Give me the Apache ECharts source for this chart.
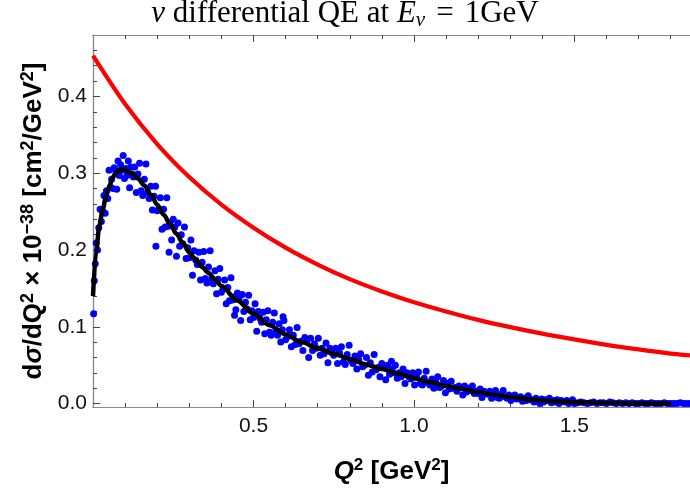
<!DOCTYPE html>
<html><head><meta charset="utf-8">
<script src="https://cdn.jsdelivr.net/npm/echarts@6/dist/echarts.min.js"></script>
<style>html,body{margin:0;padding:0;background:#fff}#c{width:690px;height:491px}</style>
</head><body><div id="c"></div>
<script>
// Red curve (smooth theory curve)
const redQ2 = [0,0.1,0.2,0.3,0.4,0.5,0.6,0.7,0.8,0.9,1.0,1.1,1.2,1.3,1.4,1.5,1.6,1.7,1.8,1.86];
const redSigma = [0.453,0.390,0.338,0.295,0.259,0.229,0.203,0.181,0.162,0.146,0.132,0.120,0.109,0.0995,0.091,0.0835,0.0765,0.0705,0.065,0.0626];
// Black fit curve
const fitQ2 = [0,0.01,0.02,0.03,0.04,0.05,0.06,0.07,0.08,0.09,0.10,0.12,0.14,0.16,0.18,0.20,0.22,0.24,0.26,0.28,0.30,0.32,0.34,0.36,0.38,0.40,0.45,0.50,0.55,0.60,0.65,0.70,0.75,0.80,0.85,0.90,0.95,1.00,1.05,1.10,1.15,1.20,1.25,1.30,1.35,1.40,1.45,1.50,1.55,1.60,1.65,1.70,1.80];
const fitSigma = [0.140,0.200,0.232,0.252,0.269,0.282,0.293,0.300,0.304,0.305,0.304,0.300,0.293,0.284,0.272,0.259,0.246,0.234,0.221,0.209,0.197,0.187,0.178,0.170,0.162,0.153,0.134,0.117,0.102,0.090,0.080,0.072,0.065,0.058,0.051,0.045,0.039,0.033,0.028,0.023,0.019,0.015,0.0115,0.0085,0.006,0.004,0.0028,0.0018,0.0012,0.0007,0.0004,0.0002,0.0];
// Blue Monte-Carlo points [Q2, dsigma]
const mcPoints = [
[0.002,0.117],[0.004,0.160],[0.007,0.182],[0.010,0.209],[0.014,0.200],[0.018,0.229],[0.022,0.253],[0.026,0.237],[0.030,0.250],[0.034,0.271],
[0.038,0.248],[0.042,0.277],[0.046,0.267],[0.050,0.304],[0.054,0.282],[0.058,0.292],[0.062,0.280],[0.066,0.307],[0.070,0.304],[0.074,0.279],
[0.078,0.316],[0.082,0.297],[0.086,0.311],[0.090,0.304],[0.094,0.323],[0.098,0.293],[0.102,0.306],[0.106,0.297],[0.110,0.316],[0.114,0.281],
[0.118,0.308],[0.122,0.299],[0.126,0.295],[0.130,0.308],[0.135,0.275],[0.140,0.299],[0.145,0.313],[0.150,0.277],[0.155,0.271],[0.160,0.292],
[0.165,0.312],[0.170,0.275],[0.175,0.267],[0.180,0.283],[0.185,0.252],[0.190,0.270],[0.195,0.283],[0.196,0.205],[0.200,0.251],[0.205,0.253],
[0.210,0.268],[0.215,0.227],[0.220,0.253],[0.225,0.230],[0.230,0.268],[0.235,0.231],[0.237,0.197],[0.240,0.235],[0.245,0.213],[0.250,0.240],
[0.255,0.230],[0.260,0.192],[0.265,0.235],[0.270,0.205],[0.275,0.220],[0.280,0.208],[0.285,0.230],[0.290,0.189],[0.295,0.203],[0.300,0.190],
[0.305,0.213],[0.310,0.167],[0.315,0.199],[0.320,0.187],[0.325,0.181],[0.330,0.197],[0.335,0.161],[0.340,0.184],[0.345,0.198],[0.350,0.163],
[0.355,0.157],[0.360,0.178],[0.365,0.199],[0.370,0.163],[0.375,0.156],[0.380,0.173],[0.385,0.143],[0.390,0.162],[0.395,0.176],[0.400,0.145],
[0.405,0.149],[0.410,0.161],[0.415,0.130],[0.420,0.151],[0.425,0.134],[0.430,0.164],[0.435,0.135],[0.440,0.139],[0.441,0.115],[0.445,0.122],
[0.450,0.144],[0.455,0.137],[0.460,0.108],[0.465,0.142],[0.470,0.120],[0.475,0.132],[0.480,0.123],[0.485,0.141],[0.490,0.109],[0.495,0.121],
[0.500,0.112],[0.505,0.130],[0.510,0.094],[0.515,0.120],[0.520,0.111],[0.525,0.106],[0.530,0.119],[0.535,0.091],[0.540,0.109],[0.545,0.121],
[0.550,0.093],[0.555,0.089],[0.560,0.106],[0.565,0.118],[0.570,0.095],[0.575,0.089],[0.580,0.104],[0.585,0.080],[0.590,0.096],[0.592,0.113],
[0.595,0.108],[0.600,0.083],[0.606,0.087],[0.612,0.096],[0.618,0.074],[0.624,0.089],[0.630,0.077],[0.636,0.099],[0.642,0.078],[0.648,0.081],
[0.654,0.069],[0.660,0.086],[0.666,0.081],[0.672,0.060],[0.678,0.085],[0.684,0.069],[0.690,0.078],[0.696,0.072],[0.702,0.085],[0.708,0.063],
[0.714,0.072],[0.720,0.065],[0.726,0.079],[0.732,0.053],[0.738,0.072],[0.744,0.066],[0.750,0.063],[0.756,0.072],[0.762,0.052],[0.768,0.066],
[0.774,0.074],[0.780,0.054],[0.786,0.051],[0.792,0.064],[0.798,0.076],[0.804,0.056],[0.810,0.052],[0.816,0.062],[0.822,0.045],[0.828,0.057],
[0.834,0.065],[0.840,0.048],[0.846,0.050],[0.852,0.060],[0.858,0.037],[0.864,0.053],[0.870,0.041],[0.876,0.064],[0.882,0.044],[0.888,0.047],
[0.894,0.035],[0.900,0.052],[0.906,0.047],[0.912,0.031],[0.918,0.050],[0.924,0.038],[0.930,0.055],[0.932,0.045],[0.936,0.040],[0.942,0.050],
[0.948,0.033],[0.954,0.040],[0.960,0.035],[0.966,0.045],[0.972,0.026],[0.978,0.040],[0.984,0.035],[0.990,0.032],[0.996,0.040],[1.002,0.024],
[1.008,0.035],[1.014,0.041],[1.020,0.026],[1.026,0.024],[1.032,0.033],[1.038,0.042],[1.044,0.027],[1.050,0.024],[1.056,0.032],[1.062,0.020],
[1.068,0.028],[1.074,0.035],[1.080,0.021],[1.086,0.023],[1.092,0.030],[1.098,0.014],[1.104,0.026],[1.110,0.019],[1.116,0.029],[1.122,0.020],
[1.128,0.021],[1.134,0.016],[1.140,0.023],[1.146,0.021],[1.152,0.011],[1.158,0.023],[1.164,0.015],[1.170,0.020],[1.176,0.017],[1.182,0.023],
[1.188,0.013],[1.194,0.016],[1.200,0.013],[1.206,0.019],[1.212,0.008],[1.218,0.016],[1.224,0.013],[1.230,0.012],[1.236,0.016],[1.242,0.007],
[1.248,0.013],[1.254,0.017],[1.260,0.008],[1.266,0.007],[1.272,0.012],[1.278,0.017],[1.284,0.009],[1.290,0.007],[1.296,0.011],[1.302,0.004],
[1.308,0.009],[1.314,0.011],[1.320,0.006],[1.326,0.007],[1.332,0.009],[1.338,0.003],[1.344,0.007],[1.350,0.004],[1.356,0.010],[1.362,0.005],
[1.368,0.005],[1.374,0.002],[1.380,0.007],[1.386,0.005],[1.392,0.000],[1.398,0.006],[1.404,0.002],[1.410,0.005],[1.416,0.004],[1.422,0.007],
[1.428,0.001],[1.434,0.004],[1.440,0.002],[1.446,0.005],[1.452,0.000],[1.458,0.004],[1.464,0.003],[1.470,0.002],[1.476,0.004],[1.482,0.000],
[1.488,0.003],[1.494,0.005],[1.500,0.000],[1.510,0.001],[1.520,0.002],[1.530,0.001],[1.540,0.000],[1.550,0.001],[1.560,0.002],[1.570,0.000],
[1.580,0.001],[1.590,0.001],[1.600,0.000],[1.610,0.002],[1.620,0.001],[1.630,0.000],[1.640,0.001],[1.650,0.000],[1.660,0.001],[1.670,0.000],
[1.680,0.001],[1.690,0.000],[1.700,0.000],[1.710,0.001],[1.720,0.000],[1.730,0.000],[1.740,0.001],[1.750,0.000],[1.760,0.000],[1.770,0.000],
[1.780,0.001],[1.790,0.000],[1.800,0.000],[1.810,0.000],[1.820,0.000],[1.830,0.001],[1.840,0.000],[1.850,0.000],[1.860,0.000]
];
// Ticks
const xMajorTicks = [0.5,1.0,1.5];
const xMinorTicks = [0.1,0.2,0.3,0.4,0.6,0.7,0.8,0.9,1.1,1.2,1.3,1.4,1.6,1.7,1.8];
const yMajorTicks = [0,0.1,0.2,0.3,0.4];
const yMinorTicks = [0.02,0.04,0.06,0.08,0.12,0.14,0.16,0.18,0.22,0.24,0.26,0.28,0.32,0.34,0.36,0.38,0.42,0.44,0.46];

const SANS = 'Liberation Sans, Arial, sans-serif';
const SERIF = 'Liberation Serif, Times New Roman, serif';
const X_MIN = 0, X_MAX = 1.86, Y_MIN = -0.0045, Y_MAX = 0.48;
const frameColor = '#8a8a8a', tickColor = '#444';

function xAxisDef(pos, ticks, len, withLabels) {
  return {
    type: 'value', position: pos, min: X_MIN, max: X_MAX,
    axisLine: { show: true, onZero: false, lineStyle: { color: frameColor, width: 1.2 } },
    axisTick: { show: true, inside: true, length: len, customValues: ticks, lineStyle: { color: tickColor, width: 1 } },
    axisLabel: withLabels ? { show: true, customValues: ticks, margin: 9, fontFamily: SANS, fontSize: 21, color: '#111',
      formatter: v => v.toFixed(1) } : { show: false },
    splitLine: { show: false }
  };
}
function yAxisDef(ticks, len, withLabels) {
  return {
    type: 'value', position: 'left', min: Y_MIN, max: Y_MAX,
    axisLine: { show: true, onZero: false, lineStyle: { color: frameColor, width: 1.2 } },
    axisTick: { show: true, inside: true, length: len, customValues: ticks, lineStyle: { color: tickColor, width: 1 } },
    axisLabel: withLabels ? { show: true, customValues: ticks, margin: 6, fontFamily: SANS, fontSize: 21, color: '#111',
      formatter: v => v.toFixed(1) } : { show: false },
    splitLine: { show: false }
  };
}

const xMain = xAxisDef('bottom', xMajorTicks, 7, true);
xMain.name = '{bi|Q}{s|2}{b| [GeV}{s|2}{b|]}';
xMain.nameLocation = 'middle';
xMain.nameGap = 50;
xMain.nameTextStyle = { rich: {
  b: { fontFamily: SANS, fontWeight: 'bold', fontSize: 26, lineHeight: 30, color: '#000' },
  bi: { fontFamily: SANS, fontWeight: 'bold', fontStyle: 'italic', fontSize: 26, lineHeight: 30, color: '#000' },
  s: { fontFamily: SANS, fontWeight: 'bold', fontSize: 17, lineHeight: 17, verticalAlign: 'top', color: '#000' }
}};

const yMain = yAxisDef(yMajorTicks, 7, true);
yMain.name = '{b|d}{bi|σ}{b|/dQ}{s|2}{b| × 10}{s|−38}{b| [cm}{s|2}{b|/GeV}{s|2}{b|]}';
yMain.nameLocation = 'middle';
yMain.nameRotate = 90;
yMain.nameGap = 44;
yMain.nameTextStyle = { rich: {
  b: { fontFamily: SANS, fontWeight: 'bold', fontSize: 26, lineHeight: 30, color: '#000' },
  bi: { fontFamily: SANS, fontWeight: 'bold', fontStyle: 'italic', fontSize: 26, lineHeight: 30, color: '#000' },
  s: { fontFamily: SANS, fontWeight: 'bold', fontSize: 18, lineHeight: 18, verticalAlign: 'top', color: '#000' }
}};

const chart = echarts.init(document.getElementById('c'), null, { renderer: 'canvas' });
chart.setOption({
  backgroundColor: '#fff',
  animation: false,
  title: {
    text: '{i|ν}{r| differential QE at }{i|E}{sub|ν}{eq|=}{r|1GeV}',
    left: 'center', top: -4, padding: 0,
    textStyle: { fontWeight: 'normal', rich: {
      r: { fontFamily: SERIF, fontWeight: 'normal', fontSize: 31, lineHeight: 35, color: '#000' },
      i: { fontFamily: SERIF, fontWeight: 'normal', fontStyle: 'italic', fontSize: 31, lineHeight: 35, color: '#000' },
      eq: { fontFamily: SERIF, fontWeight: 'normal', fontSize: 31, lineHeight: 35, color: '#000', padding: [0, 11, 0, 11] },
      sub: { fontFamily: SERIF, fontWeight: 'normal', fontStyle: 'italic', fontSize: 21, lineHeight: 21, verticalAlign: 'bottom', color: '#000' }
    }}
  },
  grid: { left: 93, top: 35, width: 597, height: 372, containLabel: false },
  xAxis: [
    xMain,
    xAxisDef('bottom', xMinorTicks, 4, false),
    xAxisDef('top', xMajorTicks, 7, false),
    xAxisDef('top', xMinorTicks, 4, false)
  ],
  yAxis: [
    yMain,
    yAxisDef(yMinorTicks, 4, false)
  ],
  series: [
    {
      type: 'scatter', xAxisIndex: 0, yAxisIndex: 0, data: mcPoints,
      symbol: 'circle', symbolSize: 7, itemStyle: { color: '#0000ff', opacity: 1 }, z: 2
    },
    {
      type: 'line', xAxisIndex: 0, yAxisIndex: 0,
      data: fitQ2.map((q, i) => [q, fitSigma[i]]),
      smooth: 0.3, smoothMonotone: 'x', showSymbol: false, symbol: 'none',
      lineStyle: { color: '#000', width: 4.5 }, z: 3
    },
    {
      type: 'line', xAxisIndex: 0, yAxisIndex: 0,
      data: redQ2.map((q, i) => [q, redSigma[i]]),
      smooth: 0.3, showSymbol: false, symbol: 'none',
      lineStyle: { color: '#ff0000', width: 4.2 }, z: 4
    }
  ]
});
</script>
</body></html>
